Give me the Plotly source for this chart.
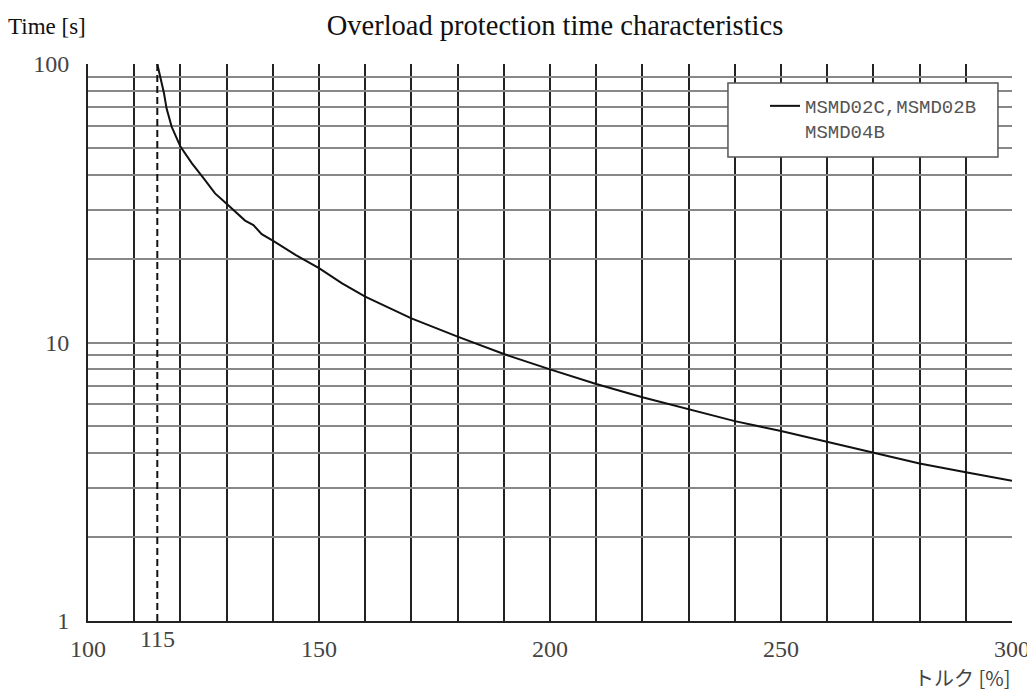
import plotly.graph_objects as go

# overload curve (torque % vs trip time s)
torque = [115, 116.45, 117.0, 118.1, 120, 122.5, 125, 127.5, 130, 134, 135.8, 137.6, 140,
          145, 150, 155, 160, 170, 180, 190, 200, 210, 220, 230, 240, 250, 260, 270, 280,
          290, 300]
trip_time = [100, 78.5, 69.3, 59.6, 50.5, 44.0, 38.9, 34.3, 31.5, 27.4, 26.4, 24.5, 23.2,
             20.6, 18.5, 16.3, 14.6, 12.2, 10.5, 9.09, 8.01, 7.10, 6.36, 5.77, 5.22, 4.81,
             4.40, 4.02, 3.68, 3.42, 3.19]

rated_x = [115, 115]
rated_y = [1, 100]

x_ticks = list(range(100, 301, 10))
x_labels = [str(v) if v % 50 == 0 else "" for v in x_ticks]
y_ticks = [1, 2, 3, 4, 5, 6, 7, 8, 9, 10, 20, 30, 40, 50, 60, 70, 80, 90, 100]
y_labels = [str(v) if v in (1, 10, 100) else "" for v in y_ticks]

serif = "Liberation Serif, Times New Roman, serif"
tick_font = dict(family=serif, size=24, color="#444")

fig = go.Figure()
fig.add_trace(go.Scatter(x=rated_x, y=rated_y, mode="lines", showlegend=False,
                         line=dict(color="#111", width=2, dash="7px,4px")))
fig.add_trace(go.Scatter(x=torque, y=trip_time, mode="lines",
                         name="MSMD02C,MSMD02B<br>MSMD04B",
                         line=dict(color="#111", width=2)))

# page body has an 8px margin, so the figure is sized to fit inside the window
fig.update_layout(
    width=1027, height=685,
    margin=dict(l=80, r=23, t=56, b=72, autoexpand=False),
    paper_bgcolor="white", plot_bgcolor="white",
    title=dict(text="Overload protection time characteristics", x=0.5054, xref="paper",
               xanchor="center", y=1 - 17 / 685, yanchor="middle",
               font=dict(family=serif, size=28.5, color="#111")),
    legend=dict(x=0.7327, y=0.9587, xanchor="left", yanchor="top",
                bgcolor="rgba(0,0,0,0)", borderwidth=0,
                font=dict(family="Liberation Mono, DejaVu Sans Mono, monospace",
                          size=19, color="#555"),
                valign="top"),
    showlegend=True,
)

# legend frame
fig.add_shape(type="rect", xref="paper", yref="paper",
              x0=0.6926, x1=0.9848, y0=0.833, y1=0.9659,
              fillcolor="white", line=dict(color="#555", width=1.5), layer="above")

fig.update_xaxes(range=[100, 300], tickvals=x_ticks, ticktext=x_labels,
                 showgrid=True, gridcolor="#222", gridwidth=2, automargin=False,
                 showline=True, linecolor="#222", linewidth=2, zeroline=False,
                 ticks="", ticklabelstandoff=5, tickfont=tick_font)
fig.update_yaxes(type="log", range=[0, 2], tickvals=y_ticks, ticktext=y_labels,
                 showgrid=True, gridcolor="#888", gridwidth=2, automargin=False,
                 showline=True, linecolor="#222", linewidth=2, zeroline=False,
                 ticks="", ticklabelstandoff=12, tickfont=tick_font)

fig.add_annotation(text="115", x=115, xref="x", y=0, yref="paper", yshift=-18,
                   yanchor="middle", showarrow=False, font=tick_font)
fig.add_annotation(text="Time [s]", x=-0.0888, xref="paper", xanchor="left",
                   y=1.068, yref="paper", yanchor="middle", showarrow=False,
                   font=dict(family=serif, size=23, color="#111"))
fig.add_annotation(text="トルク [%]", x=300, xref="x", xanchor="right",
                   y=0, yref="paper", yshift=-56, yanchor="middle", showarrow=False,
                   font=dict(family="Noto Sans CJK JP", size=20, color="#444"))

fig.write_html("out.html")
